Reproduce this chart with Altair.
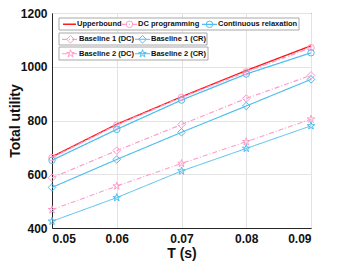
import altair as alt
import pandas as pd

T = [0.05, 0.06, 0.07, 0.08, 0.09]
upper = [665, 786, 888, 986, 1078]
dc_prog = [662, 783, 886, 981, 1071]
cont_rel = [652, 767, 876, 973, 1052]
b1_dc = [587, 688, 785, 882, 968]
b1_cr = [551, 655, 756, 854, 953]
b2_dc = [468, 556, 640, 721, 805]
b2_cr = [425, 513, 612, 696, 780]

series_names = ["Upperbound", "DC programming", "Continuous relaxation",
                "Baseline 1 (DC)", "Baseline 1 (CR)", "Baseline 2 (DC)", "Baseline 2 (CR)"]
series_vals = [upper, dc_prog, cont_rel, b1_dc, b1_cr, b2_dc, b2_cr]
marker_kind = ["none", "circle", "circle", "diamond", "diamond", "star", "star"]

RED, PINK, BLUE = "#ff1a1a", "#ff9ccb", "#4dbeee"
colors = [RED, PINK, BLUE, PINK, BLUE, PINK, BLUE]
dashes = [[1, 0], [5, 2, 1, 2], [1, 0], [5, 2, 1, 2], [1, 0], [5, 2, 1, 2], [1, 0]]
widths = [1.4, 1, 1, 1, 1, 1, 1]
STAR = ("M0,-1L0.2245,-0.309L0.9511,-0.309L0.3633,0.118L0.5878,0.809L0,0.382"
        "L-0.5878,0.809L-0.3633,0.118L-0.9511,-0.309L-0.2245,-0.309Z")
shape_styles = {"circle": ("circle", 42), "diamond": ("diamond", 58), "star": (STAR, 64)}

rows = []
for name, vals, mk in zip(series_names, series_vals, marker_kind):
    for t, v in zip(T, vals):
        rows.append({"series": name, "T": t, "U": v, "marker": mk})
df = pd.DataFrame(rows)

color_s = alt.Scale(domain=series_names, range=colors)
dash_s = alt.Scale(domain=series_names, range=dashes)
width_s = alt.Scale(domain=series_names, range=widths)

xs = alt.Scale(domain=[0.05, 0.09], nice=False, zero=False)
ys = alt.Scale(domain=[400, 1200], nice=False, zero=False)

lines = alt.Chart(df).mark_line().encode(
    x=alt.X("T:Q", scale=xs, title="T (s)",
            axis=alt.Axis(values=T, format=".2f", labelPadding=5, titlePadding=2)),
    y=alt.Y("U:Q", scale=ys, title="Total utility",
            axis=alt.Axis(values=[400, 600, 800, 1000, 1200], format="d",
                          labelPadding=5, titleX=-29.5, titleY=107.5,
                          titleAlign="center", titleBaseline="bottom")),
    color=alt.Color("series:N", scale=color_s, legend=None),
    strokeDash=alt.StrokeDash("series:N", scale=dash_s, legend=None),
    strokeWidth=alt.StrokeWidth("series:N", scale=width_s, legend=None),
    detail="series:N",
)

point_layers = []
for kind, (shp, sz) in shape_styles.items():
    point_layers.append(
        alt.Chart(df).transform_filter(alt.datum.marker == kind)
        .mark_point(filled=False, strokeWidth=1, opacity=1, shape=shp, size=sz)
        .encode(x="T:Q", y="U:Q",
                color=alt.Color("series:N", scale=color_s, legend=None))
    )

# legend layout (pixel positions inside plot area)
box_x0 = [7, 7, 7]
box_x1 = [247, 155, 156]
box_y0 = [5, 20, 34]
box_y1 = [17, 32, 47]
boxes = pd.DataFrame({"x0": box_x0, "x1": box_x1, "y0": box_y0, "y1": box_y1})

leg_row_y = [11.3, 11.3, 11.3, 26.3, 26.3, 40.7, 40.7]
leg_line_x0 = [11, 70, 150, 10, 83, 10, 83]
leg_line_x1 = [24, 85, 165, 27, 98, 27, 98]
leg_text_x = [25, 86, 166, 27, 99, 27, 99]
leg = pd.DataFrame({
    "series": series_names, "marker": marker_kind, "ly": leg_row_y,
    "lx0": leg_line_x0, "lx1": leg_line_x1, "tx": leg_text_x,
})
leg["mx"] = (leg.lx0 + leg.lx1) / 2

box_layer = alt.Chart(boxes).mark_rect(fill="white", stroke="#a8a8a8", strokeWidth=1).encode(
    x=alt.X("x0:Q", scale=None, axis=None), x2="x1:Q",
    y=alt.Y("y0:Q", scale=None, axis=None), y2="y1:Q",
)
leg_lines = alt.Chart(leg).mark_rule().encode(
    x=alt.X("lx0:Q", scale=None, axis=None), x2="lx1:Q",
    y=alt.Y("ly:Q", scale=None, axis=None),
    color=alt.Color("series:N", scale=color_s, legend=None),
    strokeDash=alt.StrokeDash("series:N", scale=dash_s, legend=None),
    strokeWidth=alt.StrokeWidth("series:N", scale=width_s, legend=None),
)
leg_mark_layers = []
for kind, (shp, sz) in shape_styles.items():
    leg_mark_layers.append(
        alt.Chart(leg).transform_filter(alt.datum.marker == kind)
        .mark_point(filled=False, strokeWidth=1, opacity=1, shape=shp, size=sz)
        .encode(x=alt.X("mx:Q", scale=None, axis=None),
                y=alt.Y("ly:Q", scale=None, axis=None),
                color=alt.Color("series:N", scale=color_s, legend=None))
    )
leg_text = alt.Chart(leg).mark_text(align="left", baseline="middle", fontSize=7.5,
                                    fontWeight="bold", font="Liberation Sans",
                                    color="#111").encode(
    x=alt.X("tx:Q", scale=None, axis=None),
    y=alt.Y("ly:Q", scale=None, axis=None),
    text="series:N",
)

chart = alt.layer(lines, *point_layers, box_layer, leg_lines, *leg_mark_layers, leg_text).properties(
    width=259, height=215,
    autosize=alt.AutoSizeParams(type="none"),
    padding={"left": 44, "top": 5, "right": 20, "bottom": 34},
).configure_view(stroke="#262626", strokeWidth=1).configure_axis(
    labelFont="Liberation Sans", titleFont="Liberation Sans",
    labelFontSize=12, titleFontSize=14, labelFontWeight="bold", titleFontWeight="bold",
    labelColor="#111", titleColor="#111",
    gridColor="#e3e3e3", gridWidth=1, domainColor="#262626", ticks=False,
)

chart.save("out.html", embed_options={"renderer": "svg", "actions": False})
